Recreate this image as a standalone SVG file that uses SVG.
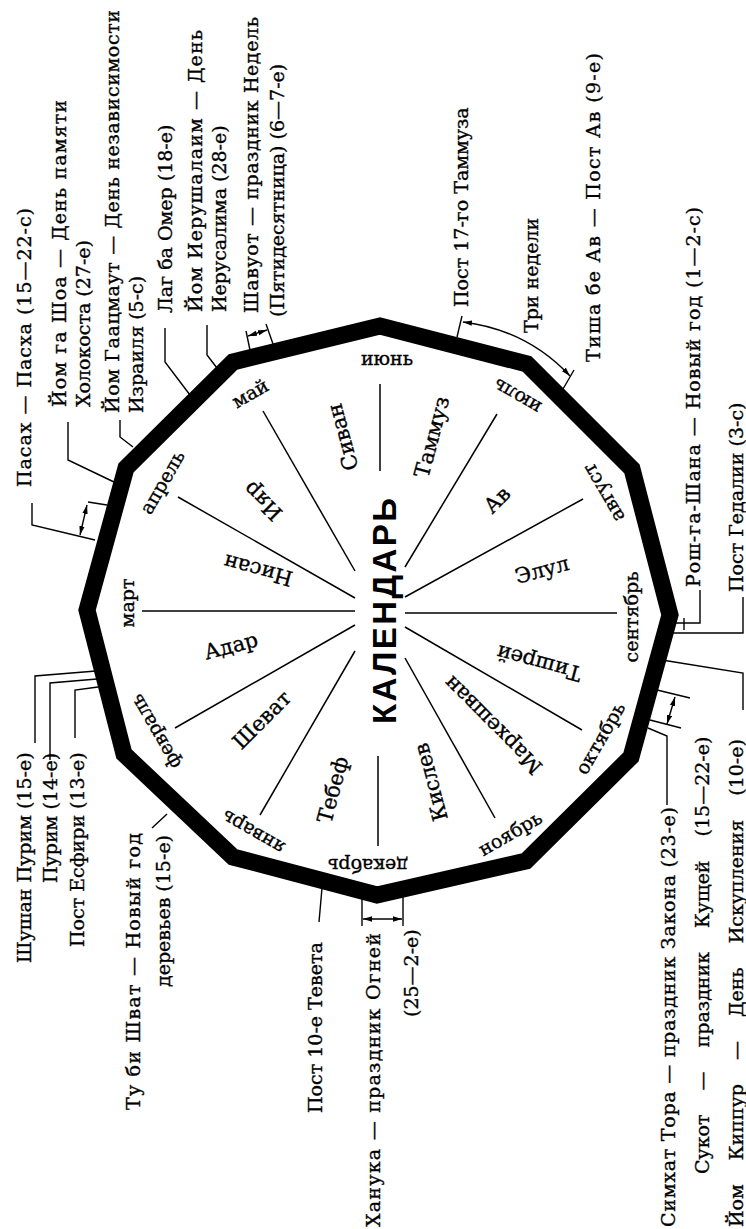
<svg xmlns="http://www.w3.org/2000/svg" width="746" height="1229" viewBox="0 0 746 1229">
<style>
.lbl{font-family:"DejaVu Serif","Liberation Serif",serif;font-size:19px;fill:#000;stroke:#000;stroke-width:0.35}
.heb{font-family:"DejaVu Serif","Liberation Serif",serif;font-size:21px;fill:#000;stroke:#000;stroke-width:0.35;text-anchor:middle;dominant-baseline:central}
.mon{font-family:"DejaVu Serif","Liberation Serif",serif;font-size:19px;fill:#000;stroke:#000;stroke-width:0.35;text-anchor:middle;dominant-baseline:central}
.title{font-family:"Liberation Sans","DejaVu Sans",sans-serif;font-size:33px;font-weight:bold;fill:#000;text-anchor:middle;dominant-baseline:central}
.spoke{stroke:#000;stroke-width:1.5;fill:none}
.ln{stroke:#000;stroke-width:1.4;fill:none}
.dbl{stroke:#000;stroke-width:1.4;fill:none;marker-start:url(#ah);marker-end:url(#ah)}
</style>
<defs>
<marker id="ah" viewBox="0 0 10 6" refX="10" refY="3" markerWidth="9" markerHeight="6" markerUnits="userSpaceOnUse" orient="auto-start-reverse">
<path d="M0,0 L10,3 L0,6 z" fill="#000"/>
</marker>
</defs>
<rect width="746" height="1229" fill="#fff"/>

<g id="wheel">
<polygon points="670,615 632,469 527,364 380,326 233,362 126,468 87,610 124,754 233,857 377,895 526,861 631,757" fill="none" stroke="#000" stroke-width="17" stroke-linejoin="miter"/>
<g id="spokes">
<line class="spoke" x1="405" y1="613" x2="617" y2="613"/>
<line class="spoke" x1="405" y1="597" x2="583" y2="499"/>
<line class="spoke" x1="405" y1="567" x2="497" y2="414"/>
<line class="spoke" x1="380" y1="471" x2="380" y2="384"/>
<line class="spoke" x1="355" y1="571" x2="263" y2="411"/>
<line class="spoke" x1="355" y1="598" x2="178" y2="497"/>
<line class="spoke" x1="355" y1="611" x2="142" y2="611"/>
<line class="spoke" x1="355" y1="625" x2="175" y2="728"/>
<line class="spoke" x1="355" y1="651" x2="260" y2="815"/>
<line class="spoke" x1="378" y1="756" x2="378" y2="846"/>
<line class="spoke" x1="405" y1="658" x2="495" y2="818"/>
<line class="spoke" x1="405" y1="627" x2="582" y2="730"/>
</g>
<text class="title" transform="translate(384,611) rotate(-90)" textLength="226" lengthAdjust="spacing">КАЛЕНДАРЬ</text>
</g>

<g id="hebrew-months">
<text class="heb" transform="translate(542,570) rotate(-15)">Элул</text>
<text class="heb" transform="translate(497,500) rotate(-45)">Ав</text>
<text class="heb" transform="translate(432,437) rotate(-75)">Таммуз</text>
<text class="heb" transform="translate(343,437) rotate(-105)">Сиван</text>
<text class="heb" transform="translate(263,501) rotate(-135)">Ияр</text>
<text class="heb" transform="translate(258,570) rotate(-165)">Нисан</text>
<text class="heb" transform="translate(231,646) rotate(-15)">Адар</text>
<text class="heb" transform="translate(262,720) rotate(-45)">Шеват</text>
<text class="heb" transform="translate(333,790) rotate(-75)">Тебеф</text>
<text class="heb" transform="translate(431,782) rotate(-105)">Кислев</text>
<text class="heb" transform="translate(493,725) rotate(-135)">Мархешван</text>
<text class="heb" transform="translate(539,663) rotate(-165)">Тишрей</text>
</g>

<g id="months">
<text class="mon" transform="translate(631,617) rotate(-90)">сентябрь</text>
<text class="mon" transform="translate(600,738) rotate(-60)">октябрь</text>
<text class="mon" transform="translate(510,833) rotate(-30)">ноябрь</text>
<text class="mon" transform="translate(368,866) rotate(180)">декабрь</text>
<text class="mon" transform="translate(253,833) rotate(-150)">январь</text>
<text class="mon" transform="translate(155,732) rotate(-120)">февраль</text>
<text class="mon" transform="translate(127,603) rotate(-90)">март</text>
<text class="mon" transform="translate(162,482) rotate(-60)">апрель</text>
<text class="mon" transform="translate(250,393) rotate(-30)">май</text>
<text class="mon" transform="translate(387,358)">июнь</text>
<text class="mon" transform="translate(517,397) rotate(-150)">июль</text>
<text class="mon" transform="translate(603,493) rotate(-120)">август</text>
</g>

<g id="connectors">
<line class="ln" x1="107" y1="505" x2="88" y2="502"/>
<polyline class="ln" points="95,540 32,525 32,503"/>
<line class="dbl" x1="87" y1="505" x2="80" y2="535"/>
<polyline class="ln" points="114,482 68,460 68,422"/>
<polyline class="ln" points="133,447 120,437 120,420"/>
<polyline class="ln" points="190,395 165,362 165,328"/>
<polyline class="ln" points="217,368 207,355 207,325"/>
<line class="ln" x1="250" y1="350" x2="246" y2="331"/>
<line class="ln" x1="273" y1="344" x2="266" y2="324"/>
<line class="dbl" x1="248" y1="336" x2="267" y2="330"/>
<line class="ln" x1="457" y1="337" x2="462" y2="316"/>
<line class="ln" x1="563" y1="389" x2="574" y2="370"/>
<path class="dbl" d="M463,322 Q527,330 570,376"/>
<polyline class="ln" points="675,623 700,623 700,590"/>
<line class="ln" x1="684" y1="618" x2="684" y2="630"/>
<polyline class="ln" points="673,633 743,633 743,597"/>
<polyline class="ln" points="662,660 743,673 743,710"/>
<line class="ln" x1="657" y1="690" x2="690" y2="698"/>
<line class="ln" x1="650" y1="720" x2="681" y2="728"/>
<line class="dbl" x1="675" y1="697" x2="667" y2="724"/>
<polyline class="ln" points="648,728 667,736 667,805"/>
<line class="ln" x1="362" y1="899" x2="362" y2="926"/>
<line class="ln" x1="403" y1="897" x2="403" y2="926"/>
<line class="dbl" x1="363" y1="919" x2="402" y2="919"/>
<line class="ln" x1="322" y1="888" x2="319" y2="922"/>
<line class="ln" x1="167" y1="814" x2="152" y2="828"/>
<polyline class="ln" points="96,671 35,676 35,743"/>
<polyline class="ln" points="97,679 50,683 50,760"/>
<polyline class="ln" points="98,687 75,690 75,738"/>
</g>

<g id="labels">
<text class="lbl" transform="translate(31,487) rotate(-90)" textLength="279" lengthAdjust="spacing">Пасах — Пасха (15—22-с)</text>
<text class="lbl" transform="translate(66,407) rotate(-90)" textLength="307" lengthAdjust="spacing">Йом га Шоа — День памяти</text>
<text class="lbl" transform="translate(90,407) rotate(-90)">Холокоста (27-е)</text>
<text class="lbl" transform="translate(119,413) rotate(-90)" textLength="403" lengthAdjust="spacing">Йом Гаацмаут — День независимости</text>
<text class="lbl" transform="translate(143,413) rotate(-90)">Израиля (5-с)</text>
<text class="lbl" transform="translate(172,313) rotate(-90)">Лаг ба Омер (18-е)</text>
<text class="lbl" transform="translate(202,312) rotate(-90)" textLength="282" lengthAdjust="spacing">Йом Иерушалаим — День</text>
<text class="lbl" transform="translate(226,312) rotate(-90)">Иерусалима (28-е)</text>
<text class="lbl" transform="translate(258,313) rotate(-90)" textLength="296" lengthAdjust="spacing">Шавуот — праздник Недель</text>
<text class="lbl" transform="translate(284,317) rotate(-90)">(Пятидесятница) (6—7-е)</text>
<text class="lbl" transform="translate(468,307) rotate(-90)">Пост 17-го Таммуза</text>
<text class="lbl" transform="translate(538,333) rotate(-90)">Три недели</text>
<text class="lbl" transform="translate(600,362) rotate(-90)" textLength="309" lengthAdjust="spacing">Тиша бе Ав — Пост Ав (9-е)</text>
<text class="lbl" transform="translate(700,587) rotate(-90)" textLength="380" lengthAdjust="spacing">Рош-га-Шана — Новый год (1—2-с)</text>
<text class="lbl" transform="translate(743,592) rotate(-90)">Пост Гедалии (3-с)</text>
<text class="lbl" transform="translate(743,1227) rotate(-90)" style="word-spacing:18px">Йом Киппур — День Искупления (10-е)</text>
<text class="lbl" transform="translate(709,1174) rotate(-90)" style="word-spacing:18px">Сукот — праздник Кущей (15—22-е)</text>
<text class="lbl" transform="translate(675,1227) rotate(-90)" textLength="420" lengthAdjust="spacing">Симхат Тора — праздник Закона (23-е)</text>
<text class="lbl" transform="translate(380,1227) rotate(-90)" textLength="294" lengthAdjust="spacing">Ханука — праздник Огней</text>
<text class="lbl" transform="translate(418,1017) rotate(-90)">(25—2-е)</text>
<text class="lbl" transform="translate(322,1113) rotate(-90)">Пост 10-е Тевета</text>
<text class="lbl" transform="translate(140,1110) rotate(-90)" textLength="277" lengthAdjust="spacing">Ту би Шват — Новый год</text>
<text class="lbl" transform="translate(170,987) rotate(-90)">деревьев (15-е)</text>
<text class="lbl" transform="translate(31,963) rotate(-90)">Шушан Пурим (15-е)</text>
<text class="lbl" transform="translate(57,883) rotate(-90)">Пурим (14-е)</text>
<text class="lbl" transform="translate(84,947) rotate(-90)">Пост Есфири (13-е)</text>
</g>
</svg>
